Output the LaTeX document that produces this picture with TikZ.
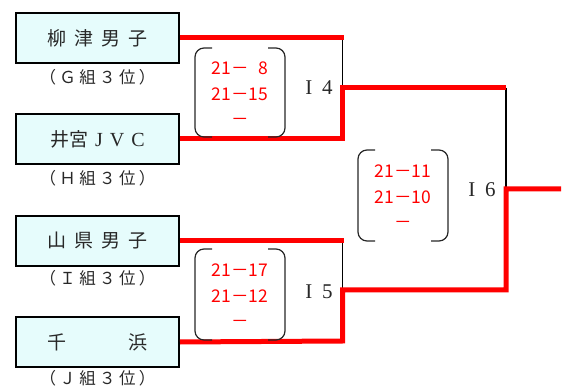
\documentclass[tikz,border=0pt]{standalone}
\usepackage{fontspec}
\setmainfont{Liberation Serif}
\newfontfamily\cjk{Noto Sans CJK JP}
\definecolor{boxfill}{RGB}{230,252,252}
\definecolor{txt}{RGB}{40,40,40}
\newcommand{\gs}{\hspace{3.4pt}}
\begin{document}
\begin{tikzpicture}[x=1pt,y=-1pt,
  team/.style={draw=black,line width=2pt,fill=boxfill,minimum width=163pt,minimum height=50pt,inner sep=0pt,text=txt,font=\fontsize{20}{22}\selectfont},
  grp/.style={inner sep=0pt,text=txt,font=\cjk\fontsize{16.5}{18}\selectfont},
  win/.style={draw=red,line width=5pt},
  lose/.style={draw=black,line width=1.5pt},
  score/.style={inner sep=0pt,text=red,align=center,font=\cjk\fontsize{17.5}{25.5}\selectfont},
  mlabel/.style={inner sep=0pt,text=txt,font=\fontsize{21}{23}\selectfont},
  paren/.style={draw=black!85,line width=1.2pt,rounded corners=9pt}]
\useasboundingbox (0,0) rectangle (568,390);

% teams
\node[team] (b1) at (97.5,38)  {{\cjk\fontsize{19}{21}\selectfont 柳\hspace{8pt}津\hspace{8pt}男\hspace{8pt}子}};
\node[team] (b2) at (97.5,139) {{\cjk\fontsize{19}{21}\selectfont 井宮}\hspace{7pt}J\hspace{7pt}V\hspace{7pt}C};
\node[team] (b3) at (97.5,241) {{\cjk\fontsize{19}{21}\selectfont 山\hspace{8pt}県\hspace{8pt}男\hspace{8pt}子}};
\node[team] (b4) at (97.5,342) {{\cjk\fontsize{19}{21}\selectfont 千\hspace{62pt}浜}};

% group labels
\node[grp] (g1) at (97.5,77)  {（\gs Ｇ\gs 組\gs ３\gs 位\gs ）};
\node[grp] (g2) at (97.5,178) {（\gs Ｈ\gs 組\gs ３\gs 位\gs ）};
\node[grp] (g3) at (97.5,278) {（\gs Ｉ\gs 組\gs ３\gs 位\gs ）};
\node[grp] (g4) at (97.5,378) {（\gs Ｊ\gs 組\gs ３\gs 位\gs ）};

% bracket junctions
\coordinate (m4t) at (342.5,38);
\coordinate (m4m) at (342.5,88);
\coordinate (m4b) at (342.5,139);
\coordinate (m5t) at (342.5,241);
\coordinate (m5m) at (342.5,290);
\coordinate (m5b) at (342.5,341);
\coordinate (m6t) at (506,88);
\coordinate (m6m) at (506,189);
\coordinate (m6b) at (506,290);
\coordinate (out) at (561,189);

% black (losing) verticals
\draw[lose] (m4t) -- (m4m);
\draw[lose] (m5t) -- (m5m);
\draw[lose] (m6t) -- (m6m);

% red lines
\draw[win] (b1.east) -- ([xshift=1pt]m4t);
\draw[win] (b2.east) -- (m4b) -- (m4m) -- (m6t);
\draw[win] (b3.east) -- ([xshift=1pt]m5t);
\draw[win] (b4.east) -- (m5b) -- (m5m) -- (m6b) -- (m6m) -- (out);

% score brackets
\draw[paren] (212,48) -- (195,48) -- (195,137) -- (212,137);
\draw[paren] (268,48) -- (285,48) -- (285,137) -- (268,137);
\draw[paren] (212,249) -- (195,249) -- (195,340) -- (212,340);
\draw[paren] (268,249) -- (285,249) -- (285,340) -- (268,340);
\draw[paren] (375,150) -- (358,150) -- (358,241) -- (375,241);
\draw[paren] (431,150) -- (448,150) -- (448,241) -- (431,241);

% scores
\node[score] (s4) at (240,94)  {21－\phantom{1}8\\21－15\\－};
\node[score] (s5) at (240,296) {21－17\\21－12\\－};
\node[score] (s6) at (403,197) {21－11\\21－10\\－};

% match labels
\node[mlabel] (l4) at (319,88)  {I\hspace{10pt}4};
\node[mlabel] (l5) at (319,292) {I\hspace{10pt}5};
\node[mlabel] (l6) at (482,190) {I\hspace{10pt}6};
\end{tikzpicture}
\end{document}
